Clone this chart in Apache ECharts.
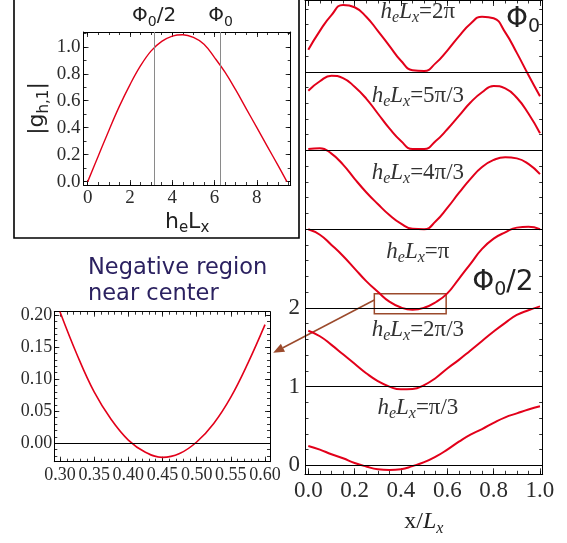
<!DOCTYPE html>
<html><head><meta charset="utf-8">
<script src="https://cdn.jsdelivr.net/npm/echarts@6/dist/echarts.min.js"></script>
<style>html,body{margin:0;padding:0;background:#fff}#c{width:567px;height:543px}</style>
</head><body><div id="c"></div>
<script>
// ---------- DATA ----------
// top-left inset: |g_h,1| versus h_e L_x
const insetX = [0,0.5,1,1.5,2,2.5,3,3.5,4,4.5,5,5.5,6,6.5,7,7.5,8,8.5,9,9.42];
const insetG = [0,0.19,0.38,0.56,0.72,0.86,0.97,1.04,1.08,1.09,1.07,1.02,0.92,0.81,0.68,0.54,0.40,0.26,0.12,0];
const fluxLines = [3.1416, 6.2832];
const fluxLabels = ['{m|Φ}{s|0}{m|/2}', '{m|Φ}{s|0}'];
const insetXTicks = [0,2,4,6,8];
const insetYTicks = [0,0.2,0.4,0.6,0.8,1.0];

// main panel: profiles versus x/L_x, each shifted up by its offset
const xPos = [0,0.05,0.1,0.15,0.2,0.25,0.3,0.35,0.4,0.45,0.5,0.55,0.6,0.65,0.7,0.75,0.8,0.85,0.9,0.95,1.0];
const gPi3  = [0.245,0.2,0.14,0.09,0.03,-0.015,-0.05,-0.06,-0.05,-0.01,0.04,0.11,0.2,0.3,0.39,0.46,0.54,0.61,0.66,0.71,0.75];
const g2Pi3 = [0.71,0.64,0.53,0.41,0.29,0.17,0.07,0.0,-0.035,-0.03,0.02,0.11,0.23,0.34,0.46,0.58,0.7,0.81,0.91,0.97,1.02];
const gPi   = [1.0,0.93,0.8,0.66,0.5,0.34,0.205,0.08,0.005,-0.022,0.002,0.072,0.185,0.37,0.56,0.75,0.88,0.96,1.02,1.03,1.0];
const g4Pi3 = [1.02,1.03,0.96,0.82,0.64,0.47,0.32,0.18,0.07,0.005,0.0,0.1,0.27,0.46,0.64,0.79,0.88,0.915,0.9,0.83,0.7];
const g5Pi3 = [0.76,0.88,0.95,0.92,0.81,0.66,0.47,0.28,0.12,0.02,0.02,0.12,0.27,0.44,0.61,0.74,0.82,0.79,0.67,0.47,0.22];
const g2Pi  = [0.28,0.52,0.72,0.85,0.82,0.7,0.52,0.33,0.14,0.02,0.01,0.11,0.27,0.45,0.61,0.7,0.68,0.5,0.24,-0.04,-0.31];
const profiles = [gPi3, g2Pi3, gPi, g4Pi3, g5Pi3, g2Pi];
const curveNames = ['π/3','2π/3','π','4π/3','5π/3','2π'];
const offsets = [0,1,2,3,4,5];
const mainXTicks = [0,0.2,0.4,0.6,0.8,1.0];
const mainYTicks = [0,1,2];

// zoomed panel: negative region near centre of the h_e L_x = π profile
const zoomX = [0.30,0.325,0.35,0.375,0.40,0.425,0.45,0.475,0.50,0.525,0.55,0.575,0.60];
const zoomG = [0.205,0.138,0.08,0.037,0.005,-0.014,-0.022,-0.016,0.002,0.031,0.072,0.125,0.185];
const zoomXTicks = [0.30,0.35,0.40,0.45,0.50,0.55,0.60];
const zoomYTicks = [0,0.05,0.10,0.15,0.20];
const zoomBoxX = [0.285,0.595];
const zoomBoxY = [1.925,2.18];

// ---------- helpers ----------
function steps(a, b, s) { const r = []; for (let i = 0; a + i*s <= b + 1e-9; i++) r.push(+(a + i*s).toFixed(6)); return r; }
const SERIF = '"Liberation Serif", serif', SANS = '"DejaVu Sans", sans-serif';
const RED = '#e2001a', BROWN = '#9b4a2c';
const xAxes = [], yAxes = [];
function axis(g, min, max, pos, o) {
  return {
    type: 'value', gridIndex: g, min: min, max: max, position: pos,
    splitLine: {show: false},
    axisLine: {show: !!o.line, onZero: false, lineStyle: {color: '#000', width: 1}},
    axisTick: {show: true, inside: true, length: o.len, customValues: o.ticks, lineStyle: {color: '#000', width: 0.8}},
    axisLabel: o.labels ? {show: true, customValues: o.labels, formatter: o.fmt, margin: o.margin,
      fontFamily: SERIF, fontSize: o.font, color: '#2b2b2b'} : {show: false},
    name: o.name || '', nameLocation: 'middle', nameGap: o.nameGap || 0, nameTextStyle: o.nameStyle || {}
  };
}
function frame(g, c) {
  const xi = xAxes.length, yi = yAxes.length;
  xAxes.push(axis(g, c.x[0], c.x[1], 'bottom', {line: true, len: c.maj, ticks: c.xMaj, labels: c.xLab, fmt: c.xFmt, margin: c.xMargin, font: c.font, name: c.xName, nameGap: c.xNameGap, nameStyle: c.xNameStyle}));
  xAxes.push(axis(g, c.x[0], c.x[1], 'bottom', {line: false, len: c.min, ticks: c.xMin}));
  xAxes.push(axis(g, c.x[0], c.x[1], 'top', {line: true, len: c.maj, ticks: c.xMaj}));
  xAxes.push(axis(g, c.x[0], c.x[1], 'top', {line: false, len: c.min, ticks: c.xMin}));
  yAxes.push(axis(g, c.y[0], c.y[1], 'left', {line: true, len: c.maj, ticks: c.yMaj, labels: c.yLab, fmt: c.yFmt, margin: c.yMargin, font: c.font, name: c.yName, nameGap: c.yNameGap, nameStyle: c.yNameStyle}));
  yAxes.push(axis(g, c.y[0], c.y[1], 'left', {line: false, len: c.min, ticks: c.yMin}));
  yAxes.push(axis(g, c.y[0], c.y[1], 'right', {line: true, len: c.maj, ticks: c.yMaj}));
  yAxes.push(axis(g, c.y[0], c.y[1], 'right', {line: false, len: c.min, ticks: c.yMin}));
  return {x: xi, y: yi};
}

const subRich = (big, small, fam, italic) => ({
  m: {fontFamily: fam, fontSize: big, lineHeight: big + 6, fontStyle: italic ? 'italic' : 'normal', color: '#222'},
  r: {fontFamily: fam, fontSize: big, lineHeight: big + 6, color: '#222'},
  s: {fontFamily: fam, fontSize: small, lineHeight: small, verticalAlign: 'bottom', fontStyle: italic ? 'italic' : 'normal', color: '#222'}
});

// grid 0: top-left inset
const A = frame(0, {
  x: [-0.2, 9.6], y: [-0.025, 1.11], maj: 5, min: 3,
  xMaj: insetXTicks, xMin: steps(0, 9.5, 0.5), yMaj: insetYTicks, yMin: steps(0, 1.1, 0.1),
  xLab: insetXTicks, yLab: insetYTicks, xFmt: v => String(Math.round(v)), yFmt: v => v.toFixed(1),
  xMargin: 4, yMargin: 3, font: 19,
  xName: '{m|h}{s|e}{m|L}{s|x}', xNameGap: 23, xNameStyle: {rich: subRich(22, 15, SANS, false)},
  yName: '{m||g}{s|h,1}{m||}', yNameGap: 32, yNameStyle: {rich: subRich(22, 15, SANS, false)}
});
// grid 1: bottom-left zoom
const Z = frame(1, {
  x: [0.2917, 0.6073], y: [-0.0287, 0.2051], maj: 5, min: 3,
  xMaj: zoomXTicks, xMin: steps(0.30, 0.60, 0.01), yMaj: zoomYTicks, yMin: steps(-0.02, 0.20, 0.01),
  xLab: zoomXTicks, yLab: zoomYTicks, xFmt: v => v.toFixed(2), yFmt: v => v.toFixed(2),
  xMargin: 5, yMargin: 2, font: 18
});
// grid 2: main right panel
const M = frame(2, {
  x: [-0.0142, 1.0117], y: [-0.114, 5.912], maj: 6, min: 3.5,
  xMaj: mainXTicks, xMin: steps(0, 1, 0.05), yMaj: steps(0, 5, 1), yMin: steps(0, 5.8, 0.2),
  xLab: mainXTicks, yLab: mainYTicks, xFmt: v => v.toFixed(1), yFmt: v => String(Math.round(v)),
  xMargin: 5, yMargin: 5, font: 23,
  xName: '{r|x/}{m|L}{s|x}', xNameGap: 32, xNameStyle: {rich: subRich(24, 16, SERIF, true)}
});

const series = [];
series.push({
  type: 'line', xAxisIndex: A.x, yAxisIndex: A.y, smooth: 0.4, symbol: 'none',
  lineStyle: {color: RED, width: 1.4}, data: insetX.map((x, i) => [x, insetG[i]]),
  markLine: {silent: true, symbol: ['none', 'none'], animation: false,
    lineStyle: {color: '#8a8a8a', width: 1, type: 'solid'},
    label: {show: true, position: 'end', distance: 3, fontFamily: SANS, fontSize: 20, color: '#222', rich: subRich(20, 14, SANS, false)},
    data: fluxLines.map((v, i) => ({xAxis: v, label: {formatter: fluxLabels[i]}}))}
});
series.push({
  type: 'line', xAxisIndex: Z.x, yAxisIndex: Z.y, smooth: 0.4, symbol: 'none',
  lineStyle: {color: RED, width: 1.6}, data: zoomX.map((x, i) => [x, zoomG[i]]),
  markLine: {silent: true, symbol: ['none', 'none'], animation: false, label: {show: false},
    lineStyle: {color: '#000', width: 1, type: 'solid'}, data: [{yAxis: 0}]}
});
profiles.forEach((p, k) => {
  const s = {
    type: 'line', xAxisIndex: M.x, yAxisIndex: M.y, smooth: 0.5, symbol: 'none', z: 3,
    lineStyle: {color: RED, width: 2}, data: xPos.map((x, i) => [x, p[i] + offsets[k]])
  };
  if (k === 0) s.markLine = {silent: true, symbol: ['none', 'none'], animation: false, label: {show: false},
    lineStyle: {color: '#000', width: 1, type: 'solid'}, data: offsets.map(v => ({yAxis: v}))};
  if (k === 2) s.markArea = {silent: true, itemStyle: {color: 'rgba(0,0,0,0)', borderColor: BROWN, borderWidth: 1.5},
    data: [[{coord: [zoomBoxX[0], zoomBoxY[0]]}, {coord: [zoomBoxX[1], zoomBoxY[1]]}]]};
  series.push(s);
});

const chart = echarts.init(document.getElementById('c'));
chart.setOption({
  animation: false,
  grid: [
    {left: 83.5, top: 32, width: 207.2, height: 153},
    {left: 54.3, top: 311.7, width: 215.7, height: 150},
    {left: 305, top: 0, width: 237.7, height: 474.3}
  ],
  xAxis: xAxes, yAxis: yAxes, series: series
});

// ---------- annotations ----------
const labelX = 0.473, labelLift = [0.73, 0.72, 0.71, 0.72, 0.69, 0.76];
const italicRich = {
  i: {fontFamily: SERIF, fontStyle: 'italic', fontSize: 23, lineHeight: 28, fill: '#333'},
  e: {fontFamily: SERIF, fontStyle: 'italic', fontSize: 16, lineHeight: 16, verticalAlign: 'bottom', fill: '#333'},
  r: {fontFamily: SERIF, fontSize: 23, lineHeight: 28, fill: '#333'}
};
const phiRich = {
  m: {fontFamily: SANS, fontSize: 28, lineHeight: 34, fill: '#222'},
  s: {fontFamily: SANS, fontSize: 19, lineHeight: 19, verticalAlign: 'bottom', fill: '#222'}
};
const px = (ax, v) => chart.convertToPixel({xAxisIndex: ax.x, yAxisIndex: ax.y}, v);
const gs = [];
gs.push({type: 'rect', silent: true, shape: {x: 14, y: -10, width: 285, height: 248}, style: {fill: 'none', stroke: '#000', lineWidth: 1.6}});
curveNames.forEach((nm, k) => {
  const p = px(M, [labelX, offsets[k] + labelLift[k]]);
  gs.push({type: 'text', silent: true, x: p[0], y: p[1], style: {text: '{i|h}{e|e}{i|L}{e|x}{r|=' + nm + '}', rich: italicRich, align: 'center', verticalAlign: 'middle'}});
});
const p1 = px(M, [0.927, 5.66]), p2 = px(M, [0.84, 2.32]);
gs.push({type: 'text', silent: true, x: p1[0], y: p1[1], style: {text: '{m|Φ}{s|0}', rich: phiRich, align: 'center', verticalAlign: 'middle'}});
gs.push({type: 'text', silent: true, x: p2[0], y: p2[1], style: {text: '{m|Φ}{s|0}{m|/2}', rich: phiRich, align: 'center', verticalAlign: 'middle'}});
gs.push({type: 'text', silent: true, x: 88, y: 255, style: {text: 'Negative region\nnear center', fontFamily: SANS, fontSize: 22.5, lineHeight: 26, fill: '#2b2160', align: 'left', verticalAlign: 'top'}});
// arrow from zoom box to zoomed panel
const a0 = px(M, [zoomBoxX[0], 2.10]);
const a1 = px(Z, [0.612, 0.141]);
const dx = a1[0] - a0[0], dy = a1[1] - a0[1], L = Math.hypot(dx, dy), ux = dx / L, uy = dy / L;
const hb = [a1[0] - ux * 11, a1[1] - uy * 11];
gs.push({type: 'line', silent: true, shape: {x1: a0[0], y1: a0[1], x2: hb[0], y2: hb[1]}, style: {stroke: BROWN, lineWidth: 1.5}});
gs.push({type: 'polygon', silent: true, shape: {points: [a1, [hb[0] - uy * 4.5, hb[1] + ux * 4.5], [hb[0] + uy * 4.5, hb[1] - ux * 4.5]]}, style: {fill: BROWN}});
chart.setOption({graphic: gs});
</script>
</body></html>
